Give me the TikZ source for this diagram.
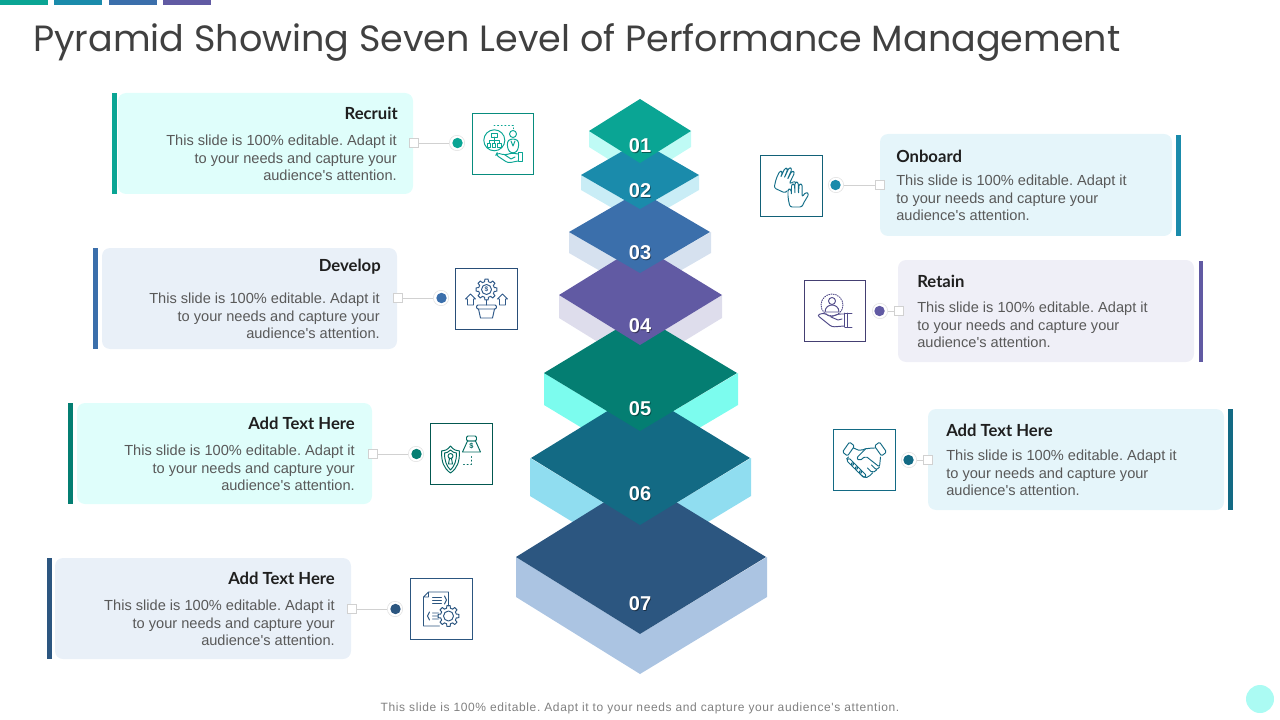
\documentclass[tikz,border=0pt]{standalone}
\usepackage{fontspec}
\setmainfont{Liberation Sans}
\newfontfamily\bodyfont{Liberation Sans}
\newfontfamily\titlefont{Poppins}
\newfontfamily\headfont{Lato}
\newfontfamily\footfont[LetterSpace=5.2]{Liberation Sans}
\frenchspacing
\definecolor{cA}{HTML}{0AA594}\definecolor{sA}{HTML}{BFFBF5}
\definecolor{cB}{HTML}{1A8BAB}\definecolor{sB}{HTML}{C9EDF6}
\definecolor{cC}{HTML}{3B6FAB}\definecolor{sC}{HTML}{D6E1EF}
\definecolor{cD}{HTML}{615AA3}\definecolor{sD}{HTML}{DEDDEC}
\definecolor{cE}{HTML}{047E72}\definecolor{sE}{HTML}{7CFCEE}
\definecolor{cF}{HTML}{136A84}\definecolor{sF}{HTML}{90DDF0}
\definecolor{cG}{HTML}{2C5680}\definecolor{sG}{HTML}{ABC4E2}
\definecolor{cardT}{HTML}{DFFEFB}\definecolor{cardB}{HTML}{E9F0F8}
\definecolor{cardS}{HTML}{E5F5FA}\definecolor{cardP}{HTML}{EFEFF7}
\definecolor{bodyc}{HTML}{595959}\definecolor{headc}{HTML}{1F1F1F}
\tikzset{
  card/.style={fill=#1,rounded corners=6pt,draw=none},
  bodytext/.style={font=\bodyfont\fontsize{10.95pt}{13.1pt}\selectfont,text=bodyc,inner sep=0pt},
  headtext/.style={font=\headfont\bfseries\fontsize{12.5pt}{15pt}\selectfont,text=headc,inner sep=0pt,text height=9pt,text depth=0pt},
  numtext/.style={font=\bfseries\fontsize{15pt}{15pt}\selectfont,text=white,inner sep=0pt},
  sq/.style={draw=black!18,fill=white,line width=.5pt,minimum size=7.2pt,inner sep=0pt},
  halo/.style={circle,draw=black!10,fill=white,line width=.5pt,minimum size=11.5pt,inner sep=0pt},
  dotn/.style={circle,fill=#1,minimum size=7.8pt,inner sep=0pt},
  link/.style={draw=black!18,line width=.6pt},
  iconbox/.style={draw=#1,line width=.75pt,minimum size=46pt,inner sep=0pt},
  ic/.style={line width=.72pt,line join=round,line cap=round},
}
% side faces: lx rx midy bottom depth side
\newcommand\levelside[6]{%
  \fill[#6] (#1,#3) -- (640,#4) -- (640,#4+#5) -- (#1,#3+#5) -- cycle;
  \fill[#6] (#2,#3) -- (640,#4) -- (640,#4+#5) -- (#2,#3+#5) -- cycle;
}
% top face: lx rx midy bottom colour
\newcommand\leveltop[5]{%
  \fill[#5] (#1,#3) -- (640,#3-#4+#3) -- (#2,#3) -- (640,#4) -- cycle;
}
\newcommand\levelnum[3]{% y colour text
  \node[numtext] (num#3) at (640,#1) {\rlap{\raisebox{-.8pt}{\hspace{.7pt}\color{#2!55!black}#3}}#3};
}
\newcommand\gearshape[4]{% x y r R
  \draw[ic] ($(#1,#2)+(-14:#3)$) \foreach \ga in {0,45,...,315}{ -- ($(#1,#2)+(\ga-14:#3)$) -- ($(#1,#2)+(\ga-9:#4)$) -- ($(#1,#2)+(\ga+9:#4)$) -- ($(#1,#2)+(\ga+14:#3)$)} -- cycle;
}
\newcommand\openhand[3]{% x y rot
  \begin{scope}[shift={(#1,#2)},rotate=#3]
  \draw[ic,rounded corners=1.6pt] (-7,12) -- (-9,3) -- (-9,-6) -- (-6,-6) -- (-5.5,0)
     -- (-5.5,-11) -- (-2.5,-11) -- (-2,-1) -- (-2,-13) -- (1.2,-13) -- (1.5,-1) -- (2,-11) -- (5.2,-11) -- (5,2)
     -- (9,-3) -- (12,-1) -- (6,9) -- (5,12) -- cycle;
  \end{scope}
}
\usetikzlibrary{calc}
\begin{document}
\begin{tikzpicture}[x=.75pt,y=-.75pt]
\useasboundingbox (0,0) rectangle (1280,720);
% top bars
\fill[cA] (0,0) rectangle (48,5);
\fill[cB] (54,0) rectangle (102,5);
\fill[cC] (109,0) rectangle (157,5);
\fill[cD] (163,0) rectangle (211,5);
\node[anchor=west,inner sep=0pt,text=black!75,font=\titlefont\fontsize{27.4pt}{32pt}\selectfont] (title) at (33,42) {Pyramid Showing Seven Level of Performance Management};
% pyramid: all side faces first, then the top faces from the bottom up
\levelside{516}{767}{557}{634}{40}{sG}
\levelside{530}{751}{458}{525}{38}{sF}
\levelside{544}{738}{373}{431}{32}{sE}
\levelside{559}{722}{295}{345}{23}{sD}
\levelside{569}{711}{232}{273}{21}{sC}
\levelside{581}{699}{175}{209}{15}{sB}
\levelside{589}{691}{131}{163}{16}{sA}
\leveltop{516}{766}{557}{634}{cG}
\leveltop{531}{750}{458}{525}{cF}
\leveltop{544}{737}{373}{431}{cE}
\leveltop{559}{722}{295}{345}{cD}
\leveltop{569}{710}{232}{273}{cC}
\leveltop{581}{699}{175}{209}{cB}
\leveltop{589}{691}{131}{163}{cA}
\levelnum{604}{cG}{07}
\levelnum{494}{cF}{06}
\levelnum{409}{cE}{05}
\levelnum{326}{cD}{04}
\levelnum{253}{cC}{03}
\levelnum{191}{cB}{02}
\levelnum{146}{cA}{01}
% cards
\fill[cA] (112,93) rectangle (117,194);
\fill[card=cardT] (118,93) rectangle (413,194);
\fill[cC] (93,248) rectangle (98,349);
\fill[card=cardB] (102,248) rectangle (397,349);
\fill[cE] (68,403) rectangle (73,504);
\fill[card=cardT] (77,403) rectangle (372,504);
\fill[cG] (47,558) rectangle (52,659);
\fill[card=cardB] (55,558) rectangle (351,659);
\fill[cB] (1176,135) rectangle (1181,236);
\fill[card=cardS] (880,134) rectangle (1172,236);
\fill[cD] (1199,261) rectangle (1203,362);
\fill[card=cardP] (898,260) rectangle (1194,362);
\fill[cF] (1228,409) rectangle (1233,510);
\fill[card=cardS] (928,409) rectangle (1224,510);
% headings
\node[headtext,anchor=east] (h1) at (398,114) {Recruit};
\node[headtext,anchor=east] (h3) at (381,265) {Develop};
\node[headtext,anchor=east] (h5) at (355,423.5) {Add Text Here};
\node[headtext,anchor=east] (h7) at (335,578.5) {Add Text Here};
\node[headtext,anchor=west] (h2) at (896,157) {Onboard};
\node[headtext,anchor=west] (h4) at (917,281.5) {Retain};
\node[headtext,anchor=west] (h6) at (946,430.5) {Add Text Here};
% bodies
\node[bodytext,anchor=east,align=right] (b1) at (397,158) {This slide is 100\% editable. Adapt it\\to your needs and capture your\\audience's attention.};
\node[bodytext,anchor=east,align=right] (b3) at (380,316) {This slide is 100\% editable. Adapt it\\to your needs and capture your\\audience's attention.};
\node[bodytext,anchor=east,align=right] (b5) at (355,468) {This slide is 100\% editable. Adapt it\\to your needs and capture your\\audience's attention.};
\node[bodytext,anchor=east,align=right] (b7) at (335,623) {This slide is 100\% editable. Adapt it\\to your needs and capture your\\audience's attention.};
\node[bodytext,anchor=west,align=left] (b2) at (896,198) {This slide is 100\% editable. Adapt it\\to your needs and capture your\\audience's attention.};
\node[bodytext,anchor=west,align=left] (b4) at (917,325) {This slide is 100\% editable. Adapt it\\to your needs and capture your\\audience's attention.};
\node[bodytext,anchor=west,align=left] (b6) at (946,473) {This slide is 100\% editable. Adapt it\\to your needs and capture your\\audience's attention.};
% connectors
\node[sq] (s1) at (414,143) {}; \node[halo] (g1) at (457,143) {}; \draw[link] (s1) -- (g1); \node[dotn=cA] (d1) at (457.5,143) {};
\node[sq] (s3) at (398,298) {}; \node[halo] (g3) at (441,298) {}; \draw[link] (s3) -- (g3); \node[dotn=cC] (d3) at (441.5,298) {};
\node[sq] (s5) at (373,454) {}; \node[halo] (g5) at (416,454) {}; \draw[link] (s5) -- (g5); \node[dotn=cE] (d5) at (416.5,454) {};
\node[sq] (s7) at (352,609) {}; \node[halo] (g7) at (395,609) {}; \draw[link] (s7) -- (g7); \node[dotn=cG] (d7) at (395.5,609) {};
\node[sq] (s2) at (880,185) {}; \node[halo] (g2) at (836,185) {}; \draw[link] (s2) -- (g2); \node[dotn=cB] (d2) at (835.5,185) {};
\node[sq] (s4) at (899,311) {}; \node[halo] (g4) at (880,311) {}; \draw[link] (s4) -- (g4); \node[dotn=cD] (d4) at (879.5,311) {};
\node[sq] (s6) at (928,460) {}; \node[halo] (g6) at (909,460) {}; \draw[link] (s6) -- (g6); \node[dotn=cF] (d6) at (908.5,460) {};
% icon boxes
\node[iconbox=cA!85!black] (i1) at (503,144) {};
\node[iconbox=cC!70!black] (i3) at (486.5,299) {};
\node[iconbox=cE!70!black] (i5) at (461.5,454) {};
\node[iconbox=cG] (i7) at (441.5,609) {};
\node[iconbox=cB!70!black] (i2) at (791.5,186) {};
\node[iconbox=cD!70!black] (i4) at (835,311) {};
\node[iconbox=cF] (i6) at (864.5,460) {};
% icon 1: recruit
\begin{scope}[shift={(503,144)},cA]
 \draw[ic] (-8.7,-3.7) circle (10.5);
 \draw[ic] (-11.5,-11) rectangle (-6,-7) (-9,-7) -- (-9,-4) (-14,-1) -- (-14,-3.5) -- (-4,-3.5) -- (-4,-1) (-9,-3.5) -- (-9,-1);
 \draw[ic] (-16,-1) rectangle (-12.5,3) (-10.8,-1) rectangle (-7.2,3) (-5.5,-1) rectangle (-2,3);
 \draw[ic,dotted] (-9,-19) -- (10,-19) -- (10,-15);
 \draw[ic] (10,-10) circle (3.5);
 \draw[ic,rounded corners=2pt] (5,6) -- (4,-2) -- (7,-5) -- (13,-5) -- (16,-2) -- (15,6) -- (12,9) -- (8,9) -- cycle;
 \draw[ic] (8,-3) -- (10,2) -- (12,-3);
 \draw[ic,rounded corners=2pt] (15,10) -- (9,9) -- (2,11) -- (-6,9) -- (-7,11) -- (5,19) -- (15,17);
 \draw[ic] (2,11) -- (8,15) -- (12,13);
 \draw[ic] (15,8.5) rectangle (19,17.5);
\end{scope}
% icon 3: develop
\begin{scope}[shift={(486.5,299)},cC!80!black]
 \gearshape{0}{-9.5}{8}{10.5}
 \draw[ic] (0,-9.5) circle (5);
 \node[inner sep=0pt,font=\bfseries\fontsize{5pt}{5pt}\selectfont,text=cC!80!black] (i3d) at (0,-9.5) {\$};
 \draw[ic] (0,1) -- (0,6);
 \draw[ic,rounded corners=1pt] (-10,6) rectangle (10,10);
 \draw[ic] (-8,10) -- (-6,19) -- (6,19) -- (8,10);
 \draw[ic] (-19,6) -- (-19,0) -- (-21,0) -- (-16,-5) -- (-11,0) -- (-13,0) -- (-13,6) -- cycle;
 \draw[ic] (19,6) -- (19,0) -- (21,0) -- (16,-5) -- (11,0) -- (13,0) -- (13,6) -- cycle;
\end{scope}
% icon 5: shield
\begin{scope}[shift={(461.5,454)},cE!85!black]
 \draw[ic] (-11,-8) .. controls (-14,-4) and (-17,-3) .. (-20,-3) .. controls (-20,8) and (-18,14) .. (-11,19) .. controls (-4,14) and (-2,8) .. (-2,-3) .. controls (-5,-3) and (-8,-4) .. cycle;
 \draw[ic] (-11,-4) .. controls (-13,-2) and (-15,-1) .. (-17,-1) .. controls (-17,7) and (-15,12) .. (-11,16) .. controls (-7,12) and (-5,7) .. (-5,-1) .. controls (-7,-1) and (-9,-2) .. cycle;
 \draw[ic] (-11,2) circle (2.5) (-12,4.5) -- (-13,10) -- (-9,10) -- (-10,4.5);
 \draw[ic] (1,-2) -- (19,-2) -- (14,-13) -- (6,-13) -- cycle;
 \draw[ic,rounded corners=1pt] (5,-18) rectangle (15,-13);
 \node[inner sep=0pt,font=\bfseries\fontsize{5.5pt}{5.5pt}\selectfont,text=cE!85!black] (i5d) at (10,-7.5) {\$};
 \draw[ic,dotted] (2,10) -- (10,10) -- (10,0);
\end{scope}
% icon 7: doc + gear
\begin{scope}[shift={(441.5,609)},cG]
 \draw[ic] (-18,-12) -- (-13,-17) -- (7,-17) -- (7,-3) (-18,-12) -- (-18,17) -- (-2,17) (-18,-12) -- (-13,-12) -- (-13,-17);
 \draw[ic] (-9,-12) -- (0,-12) (-9,-9) -- (0,-9) (-9,-6) -- (0,-6);
 \draw[ic] (3,-13) -- (5,-9) -- (3,-5);
 \draw[ic] (-12,3) -- (-14,7) -- (-12,11) (-9,4) -- (-3,4) (-9,7) -- (-3,7) (-9,10) -- (-3,10);
 \gearshape{7}{7}{8}{10.5}
 \draw[ic] (7,7) circle (5);
\end{scope}
% icon 2: two hands
\begin{scope}[cB!80!black]
 \openhand{785.5}{180}{-25}
 \fill[white] (797,193) circle (10);
 \openhand{797}{195}{0}
\end{scope}
% icon 4: retain
\begin{scope}[shift={(835,311)},cD!85!black]
 \draw[ic,densely dotted] (-3,-6) circle (11);
 \draw[ic] (-3,-10) circle (3.5);
 \draw[ic] (-10,1) .. controls (-10,-4) and (-6,-6) .. (-3,-6) .. controls (0,-6) and (4,-4) .. (4,1) -- cycle;
 \draw[ic,rounded corners=2pt] (9,3) -- (3,3) -- (-4,6) -- (-11,2) -- (-18,4) -- (-3,16) -- (9,15);
 \draw[ic] (-4,6) -- (3,9) -- (7,8);
 \draw[ic] (10,2) -- (17,2) (10,16) -- (17,16) (12,2) -- (12,16) (9,2) -- (9,16);
\end{scope}
% icon 6: handshake
\begin{scope}[shift={(864.5,460)},cF]
 \draw[ic,rounded corners=1pt] (-22,-8) -- (-15,-18) -- (-10,-14) -- (-17,-4) -- cycle;
 \draw[ic,rounded corners=1pt] (22,-8) -- (15,-18) -- (10,-14) -- (17,-4) -- cycle;
 \draw[ic,rounded corners=1.5pt] (-11,-12) -- (-4,-9) -- (-1,-11) -- (8,-12) -- (11,-12);
 \draw[ic,rounded corners=1.5pt] (1,-11) -- (-8,-2) -- (-5,1) -- (1,-4) -- (15,7) -- (16,-3);
 \draw[ic,rounded corners=1.5pt] (15,7) -- (12,10) -- (7,5) (12,10) -- (8,13) -- (3,8) (8,13) -- (4,17) -- (0,18) -- (-3,15);
 \draw[ic,rounded corners=1.5pt] (-16,-3) -- (-18,-1);
 \foreach \fx/\fy in {-14/2,-10/6,-6/10,-2/14}{
   \draw[ic,rotate around={45:(\fx,\fy)},rounded corners=1.5pt] (\fx-1.8,\fy-4) rectangle (\fx+1.8,\fy+4);
 }
\end{scope}
% footer
\node[inner sep=0pt,text=black!50,font=\footfont\fontsize{9pt}{11pt}\selectfont] (foot) at (640,708.5) {This slide is 100\% editable. Adapt it to your needs and capture your audience's attention.};
\fill[sA!70!sE] (1260,699) circle (14);
\end{tikzpicture}
\end{document}
